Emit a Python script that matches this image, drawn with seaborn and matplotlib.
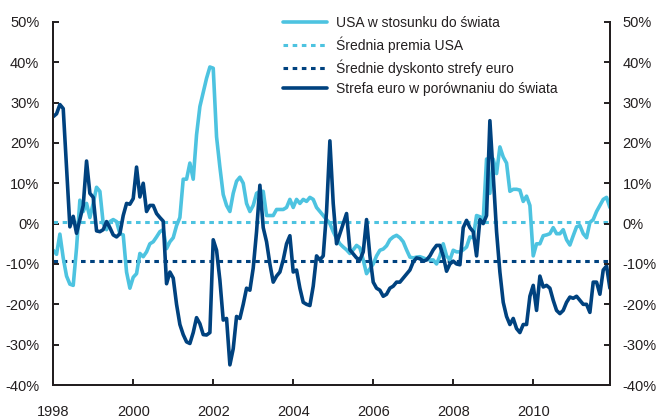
import numpy as np
import pandas as pd
import seaborn as sns
import matplotlib.pyplot as plt
from matplotlib.ticker import FuncFormatter

sns.set_style("ticks")
plt.rcParams['font.family'] = ['Liberation Sans', 'DejaVu Sans']

# Premia / dyskonto wyceny wzgledem swiata, %, dane miesieczne 1998-01 .. 2011-12
usa = [
    -6.6, -7.6, -2.6, -8.5, -13, -15, -15.3, -6, 5.8, 3, 5, 1.5,        # 1998
    5, 9, 8, 0, -1.5, 0.5, 1, 0.5, -2.5, -2.8, -12, -16,                # 1999
    -13.3, -12.4, -7.4, -8.2, -7, -5, -4.5, -3.3, -2, -1.5, -6.2, -4.5, # 2000
    -3.5, -0.5, 1.5, 11, 11, 15, 11, 22, 29, 32.5, 36, 38.8,            # 2001
    38.5, 21.5, 14, 7.2, 4.5, 3, 7.5, 10.5, 11.5, 10, 5, 3,             # 2002
    4.5, 7.5, 8, 8, 2, 2, 2, 3.5, 3.5, 3.5, 4, 6,                       # 2003
    4, 6, 5, 6, 5.5, 6.5, 6, 4, 3, 2, 1, 0,                             # 2004
    -2, -3.7, -5, -5.8, -6.5, -7.4, -6.5, -5.4, -6, -9, -12.4, -11.2,   # 2005
    -10, -8, -6.6, -6.3, -5.5, -4, -3.3, -2.9, -3.5, -4.5, -6.5, -8.3,  # 2006
    -8.5, -8.3, -8.2, -8.5, -8.8, -9, -9, -10, -8, -5, -8, -9,          # 2007
    -6.6, -7, -7, -6.5, -5.8, -3.3, -3.5, 2, 1.7, 1, 16, 7.5,           # 2008
    16, 12.4, 19, 16.5, 15, 8, 8.5, 8.5, 8.3, 5.5, 6.8, 4.5,            # 2009
    -8, -5, -5, -3, -2.8, -2.5, -1, -2.5, -2.5, -1.5, -4, -5.3,         # 2010
    -3, -0.8, -0.5, -2.5, -3.5, 0.3, 1, 3, 4.5, 6, 6.5, 4,              # 2011
]
euro = [
    26.5, 27.2, 29.5, 28.5, 14, -0.8, 1.8, -2.4, 1, 4.5, 15.5, 7.5,          # 1998
    6.5, -1.8, -2, -1.5, 0.5, -1, -2.8, -3.3, -2.5, 2, 5, 4.8,               # 1999
    6.2, 14, 6.6, 10, 3, 4.5, 4.5, 2.5, 1.5, 0.6, -14.9, -12,                # 2000
    -13.5, -20, -25, -27.5, -29.3, -29.7, -27, -23.3, -24.8, -27.5, -27.6, -27,  # 2001
    -4, -6.6, -14, -23.9, -23.5, -35, -31, -23, -23.5, -20, -16, -16.5,      # 2002
    -11, -2, 9.5, -1, -4.5, -10, -14.5, -13, -12, -9, -5, -3,                # 2003
    -12, -11.5, -16, -19.5, -20, -20.3, -15.5, -8, -9, -8, 3, 20.5,          # 2004
    5, -5, -2.5, 0, 2.5, -6.5, -7.5, -8.5, -9, -7, 1, -8,                    # 2005
    -14.5, -16, -16.5, -18, -17.5, -16, -15.5, -14.5, -14.5, -13.5, -12.5, -11.5,  # 2006
    -9.5, -8.5, -8.7, -9.3, -9, -8, -6.5, -5.4, -5.4, -8, -11.8, -10,        # 2007
    -9.3, -10, -10.2, -1, 0.8, -1, -2, -8, 1, 0, 2, 25.5,                    # 2008
    12, -2, -12, -19.5, -23, -25, -23.5, -26, -27, -25, -25, -18,            # 2009
    -15.3, -21.5, -13, -15.7, -15.3, -16, -19, -21.5, -22.3, -21.5, -19.5, -18.2,  # 2010
    -18.5, -18, -19, -20, -20, -22, -14.5, -14.5, -17.5, -11.5, -10.5, -16,  # 2011
]
usa_mean = 0.3
euro_mean = -9.2

labels = ["USA w stosunku do świata", "Średnia premia USA",
          "Średnie dyskonto strefy euro", "Strefa euro w porównaniu do świata"]
year_ticks = [1998, 2000, 2002, 2004, 2006, 2008, 2010]
y_ticks = list(range(-40, 51, 10))

light = "#4DC3E0"
dark = "#00427F"
ink = "#231F20"

x = 1998 + np.arange(len(usa)) / 12
df = pd.DataFrame({"rok": x, "usa": usa, "euro": euro})

fig = plt.figure(figsize=(6.57, 4.19), dpi=100)
ax = fig.add_axes([0.081, 0.081, 0.8473, 0.867])

h_usa_mean = ax.axhline(usa_mean, color=light, lw=2.2, dashes=(1.5, 1.5), zorder=1)
h_euro_mean = ax.axhline(euro_mean, color=dark, lw=2.2, dashes=(1.5, 1.5), zorder=1)
sns.lineplot(data=df, x="rok", y="usa", ax=ax, color=light, lw=2.6, zorder=2)
sns.lineplot(data=df, x="rok", y="euro", ax=ax, color=dark, lw=2.6, zorder=3)
h_usa, h_euro = ax.get_lines()[2], ax.get_lines()[3]

ax.set_xlim(x[0], x[-1])
ax.set_ylim(-40, 50)
ax.set_xticks(year_ticks)
ax.set_xticklabels([str(y) for y in year_ticks])
ax.set_yticks(y_ticks)
pct = FuncFormatter(lambda v, p: f"{v:.0f}%")
ax.yaxis.set_major_formatter(pct)
ax.set_xlabel("")
ax.set_ylabel("")

ax2 = ax.twinx()
ax2.set_ylim(-40, 50)
ax2.set_yticks(y_ticks)
ax2.yaxis.set_major_formatter(pct)

for a in (ax, ax2):
    a.spines["top"].set_visible(False)
    for s in ("left", "right", "bottom"):
        a.spines[s].set_color(ink)
        a.spines[s].set_linewidth(1.4)
    a.tick_params(direction="in", length=4, width=1.4, color=ink,
                  labelcolor=ink, labelsize=10.5)
ax.tick_params(axis="y", pad=10)
ax2.tick_params(axis="y", pad=9)
ax.tick_params(axis="x", pad=14)

leg = ax.legend([h_usa, h_usa_mean, h_euro_mean, h_euro], labels,
                loc="upper left", bbox_to_anchor=(283 / 657, 1 - 16 / 419),
                bbox_transform=fig.transFigure, frameon=False, fontsize=10,
                handlelength=3.2, handletextpad=0.65, labelspacing=0.45,
                borderpad=0, borderaxespad=0)
for t in leg.get_texts():
    t.set_color(ink)

fig.savefig("out.png", dpi=100)
